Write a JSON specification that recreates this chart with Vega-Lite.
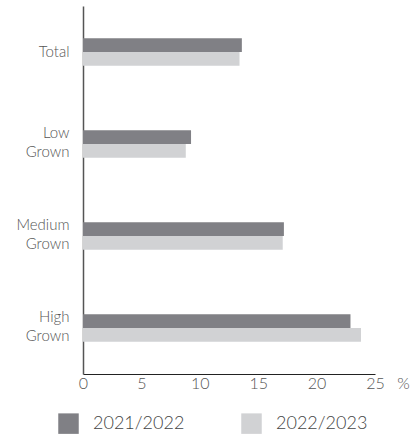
{
  "$schema": "https://vega.github.io/schema/vega-lite/v6.json",
  "width": 292,
  "height": 368,
  "autosize": "none",
  "padding": {"left": 83, "top": 6, "right": 36, "bottom": 61},
  "background": "white",
  "data": {
    "values": [
      {"category": "Total", "year": "2021/2022", "value": 13.6},
      {"category": "Total", "year": "2022/2023", "value": 13.4},
      {"category": "Low Grown", "year": "2021/2022", "value": 9.25},
      {"category": "Low Grown", "year": "2022/2023", "value": 8.8},
      {"category": "Medium Grown", "year": "2021/2022", "value": 17.2},
      {"category": "Medium Grown", "year": "2022/2023", "value": 17.1},
      {"category": "High Grown", "year": "2021/2022", "value": 22.9},
      {"category": "High Grown", "year": "2022/2023", "value": 23.8}
    ]
  },
  "mark": {"type": "bar"},
  "encoding": {
    "y": {
      "field": "category",
      "type": "nominal",
      "sort": ["Total", "Low Grown", "Medium Grown", "High Grown"],
      "scale": {"paddingInner": 0.7, "paddingOuter": 0.35},
      "axis": {
        "title": null,
        "ticks": false,
        "domainColor": "#555555",
        "domainWidth": 1.5,
        "labelFont": "Lato",
        "labelFontWeight": 300,
        "labelFontSize": 15,
        "labelColor": "#555555",
        "labelPadding": 14,
        "labelLineHeight": 19,
        "labelBaseline": "middle",
        "labelOffset": {"condition": {"test": "datum.value != 'Total'", "value": -11}, "value": 0},
        "labelExpr": "split(datum.label, ' ')"
      }
    },
    "yOffset": {
      "field": "year",
      "type": "nominal",
      "sort": ["2021/2022", "2022/2023"]
    },
    "x": {
      "field": "value",
      "type": "quantitative",
      "scale": {"domain": [0, 25]},
      "axis": {
        "values": [0, 5, 10, 15, 20, 25],
        "grid": false,
        "ticks": false,
        "domainColor": "#222222",
        "domainWidth": 1.2,
        "labelFont": "Lato",
        "labelFontWeight": 300,
        "labelFontSize": 16,
        "labelColor": "#555555",
        "labelPadding": 1,
        "labelFlush": false,
        "title": "%",
        "titleFont": "Lato",
        "titleFontWeight": 300,
        "titleFontSize": 16,
        "titleColor": "#555555",
        "titleX": 320,
        "titleY": 9,
        "titleAlign": "center",
        "titleBaseline": "middle"
      }
    },
    "color": {
      "field": "year",
      "type": "nominal",
      "scale": {"domain": ["2021/2022", "2022/2023"], "range": ["#808085", "#d1d2d4"]},
      "legend": {
        "title": null,
        "orient": "none",
        "legendX": -25,
        "legendY": 407,
        "direction": "horizontal",
        "symbolType": "square",
        "symbolSize": 420,
        "symbolStrokeWidth": 0,
        "labelFont": "Lato",
        "labelFontWeight": 300,
        "labelFontSize": 18,
        "labelColor": "#444444",
        "labelOffset": 14,
        "columnPadding": 56,
        "symbolOpacity": 1
      }
    }
  },
  "config": {"view": {"stroke": null}}
}
